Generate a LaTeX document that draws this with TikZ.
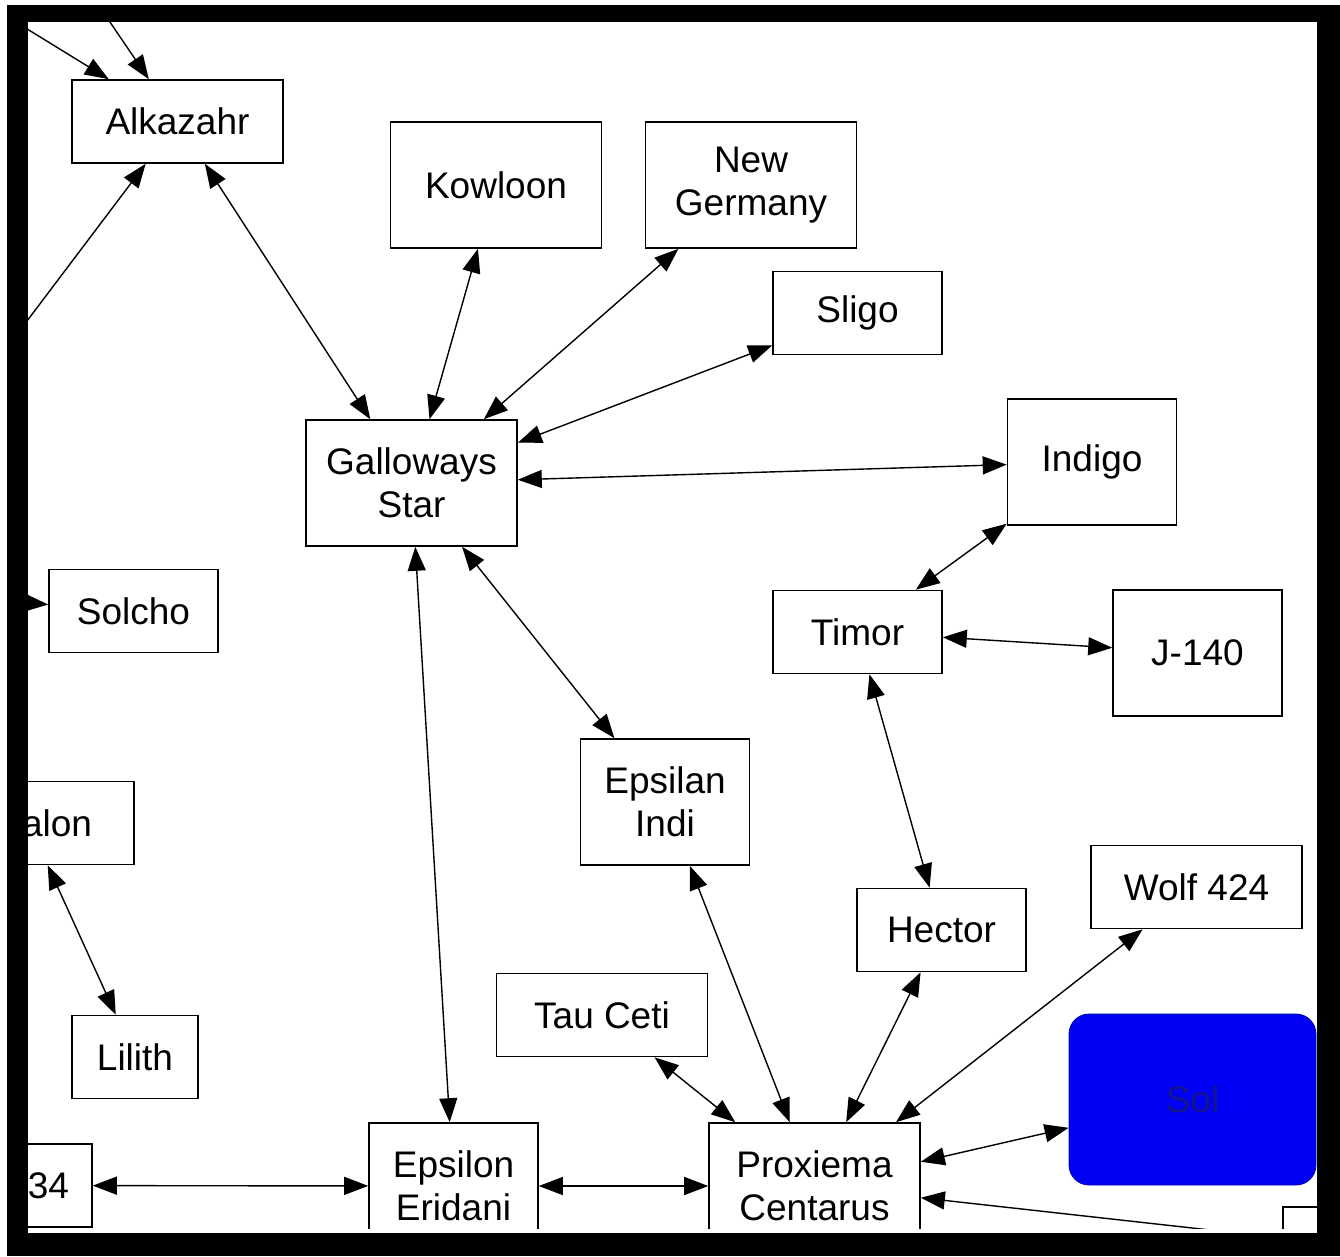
\documentclass[tikz,border=0pt]{standalone}
\usepackage{fontspec}
\setmainfont{Liberation Sans}
\usetikzlibrary{arrows.meta}
\definecolor{solblue}{RGB}{0, 0, 245}
\definecolor{solink}{RGB}{20, 20, 140}

\begin{document}
\begin{tikzpicture}[x=1pt, y=-1pt, every node/.style={font=\fontsize{37}{43}\selectfont},
                    >={Triangle[length=24pt,width=18pt]},
                    star/.style={draw, rectangle, line width=1.6pt, inner sep=0pt, align=center},
                    widebox/.style={minimum width=211pt},
                    slimbox/.style={minimum width=169pt},
                    onerow/.style={minimum height=83pt},
                    tworow/.style={minimum height=126pt},
                    link/.style={<->, line width=1.4pt}]
                    \fill[white] (0,0) rectangle (1340,1256);
                    \fill[black] (7,5) rectangle (1340,1256);
                    \fill[white] (28,22) rectangle (1317,1233);
                    \begin{scope}
                    \clip (28,22) rectangle (1317,1228);
                    \node[star, widebox, onerow] (alk) at (177.5,121.5) {Alkazahr};
                    \node[star, widebox, tworow] (kow) at (496,185) {Kowloon};
                    \node[star, widebox, tworow] (newger) at (751,185) {New\\Germany};
                    \node[star, slimbox, onerow] (sligo) at (857.5,313) {Sligo};
                    \node[star, widebox, tworow] (gal) at (411.5,483) {Galloways\\Star};
                    \node[star, slimbox, tworow] (indigo) at (1092,462) {Indigo};
                    \node[star, slimbox, onerow] (solcho) at (133.5,611) {Solcho};
                    \node[star, slimbox, onerow] (timor) at (857.5,632) {Timor};
                    \node[star, slimbox, tworow] (j140) at (1197.5,653) {J-140};
                    \node[star, onerow, inner xsep=42pt, text width=127pt, align=right] (avalon) at (28.5,823) {alon};
                    \node[star, slimbox, tworow] (epsind) at (665,802) {Epsilan\\Indi};
                    \node[star, widebox, onerow] (wolf) at (1196.5,887) {Wolf 424};
                    \node[star, slimbox, onerow] (hector) at (941.5,930) {Hector};
                    \node[star, widebox, onerow] (tauceti) at (602,1015) {Tau Ceti};
                    \node[star, onerow, minimum width=126pt] (lilith) at (135,1057) {Lilith};
                    \node[fill=solblue, draw=solblue!70!black, line width=0.8pt, rounded corners=20pt,
                          minimum width=247pt, minimum height=171pt, text=solink] (sol) at (1192.5,1099.5) {Sol};
                    \node[star, onerow, inner xsep=23pt, text width=165pt, align=right] (w34) at (-13.5,1185.5) {34};
                    \node[star, slimbox, tworow] (epseri) at (453.5,1186) {Epsilon\\Eridani};
                    \node[star, widebox, tworow] (prox) at (814.5,1186) {Proxiema\\Centarus};
                    \node[star, widebox, tworow] (offbox) at (1388.5,1270) {};
                    \coordinate (farnw) at (-20,0);
                    \coordinate (farn) at (95,0);
                    \coordinate (farw) at (-10,370);
                    \coordinate (farsw) at (-300,578);
                    \coordinate (farse) at (1300,1240);
                    \draw[link, ->] (farnw) -- (alk);
                    \draw[link, ->] (farn) -- (alk);
                    \draw[link, ->] (farw) -- (alk);
                    \draw[link] (alk) -- (gal);
                    \draw[link] (kow) -- (gal);
                    \draw[link] (newger) -- (gal);
                    \draw[link] (sligo) -- (gal);
                    \draw[link] (indigo) -- (gal);
                    \draw[link] (indigo) -- (timor);
                    \draw[link] (timor) -- (j140);
                    \draw[link] (timor) -- (hector);
                    \draw[link] (gal) -- (epsind);
                    \draw[link] (gal) -- (epseri);
                    \draw[link] (epsind) -- (prox);
                    \draw[link] (tauceti) -- (prox);
                    \draw[link] (hector) -- (prox);
                    \draw[link] (wolf) -- (prox);
                    \draw[link] (prox) -- (sol);
                    \draw[link, ->] (farse) -- (prox);
                    \draw[link] (epseri) -- (prox);
                    \draw[link] (w34) -- (epseri);
                    \draw[link] (avalon) -- (lilith);
                    \draw[link, ->] (farsw) -- (solcho);
                    \end{scope}
                \end{tikzpicture}
\end{document}
